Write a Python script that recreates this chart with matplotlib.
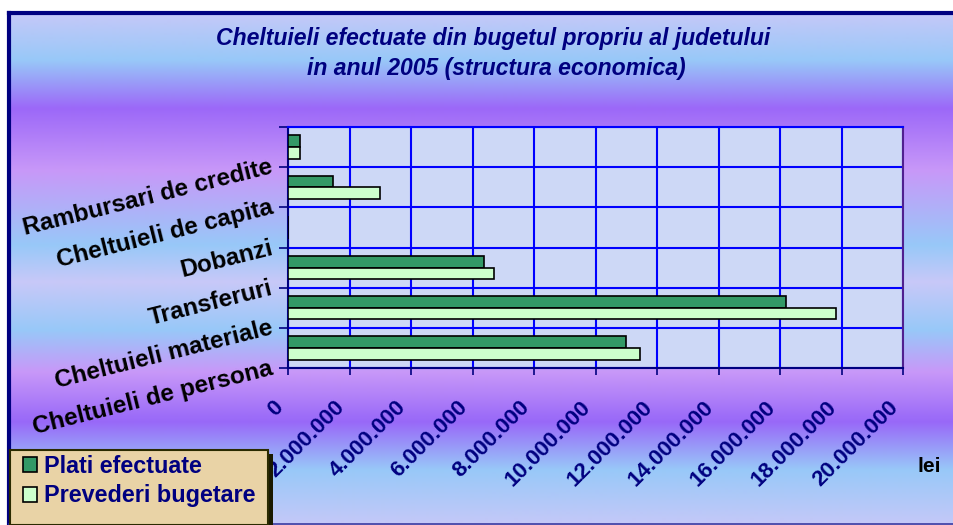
import matplotlib
matplotlib.use("Agg")
import matplotlib.pyplot as plt
import matplotlib.patches as mpatches
import matplotlib.transforms as mtransforms
import numpy as np

plt.rcParams['font.family'] = ['Liberation Sans', 'DejaVu Sans']

# data (lei)
categories = ["Cheltuieli de persona", "Cheltuieli materiale", "Transferuri",
              "Dobanzi", "Cheltuieli de capita", "Rambursari de credite"]
plati = [10980000, 16190000, 6350000, 0, 1460000, 380000]
prevederi = [11440000, 17810000, 6690000, 0, 2970000, 385000]
series_names = ["Plati efectuate", "Prevederi bugetare"]
x_ticks = np.arange(0, 20000001, 2000000)
x_ticklabels = [f"{int(v):,}".replace(",", ".") for v in x_ticks]

W, H = 954, 525
fig = plt.figure(figsize=(W / 100, H / 100), dpi=100)
fig.patch.set_facecolor('white')

# background frame with the banded gradient
bg = fig.add_axes([0, 0, 1, 1], zorder=-10)
stop_y = [14, 60, 108, 170, 245, 282, 330, 372, 422, 470, 524]
stop_c = ['#c4c8f8', '#98c8f8', '#9c68f8', '#c898f8', '#98c8f8', '#c8c8f8',
          '#98c8f8', '#c898f8', '#9868f8', '#98c8f8', '#c4c8f8']
stop_rgb = np.array([matplotlib.colors.to_rgb(c) for c in stop_c])
ys = np.arange(14, 524)
rgb = np.stack([np.interp(ys, stop_y, stop_rgb[:, k]) for k in range(3)], axis=-1)
bg.imshow(rgb[:, None, :], extent=[9, 954, 523, 14], aspect='auto',
          interpolation='bilinear')
bg.plot([9, 9], [523, 13], color='#000080', lw=3, solid_capstyle='projecting')
bg.plot([9, 960], [13, 13], color='#000080', lw=3, solid_capstyle='projecting')
bg.plot([9, 960], [523.5, 523.5], color='#3030a0', lw=1.2)
bg.set_xlim(0, W)
bg.set_ylim(H, 0)
bg.axis('off')

# main plot
ax = fig.add_axes([288.3 / W, 1 - 368 / H, 615 / W, 241 / H])
ax.set_facecolor('#cdd8f6')
pos = np.arange(len(categories)) + 0.5
h = 0.29
ax.barh(pos + h / 2, plati, height=h, color='#339966', edgecolor='black',
        lw=1.2, label=series_names[0], zorder=3)
ax.barh(pos - h / 2, prevederi, height=h, color='#ccffcc', edgecolor='black',
        lw=1.2, label=series_names[1], zorder=3)

ax.set_xlim(0, 20000000)
ax.set_ylim(0, 6)
ax.set_xticks(x_ticks)
ax.set_xticklabels(x_ticklabels, rotation=45, rotation_mode='anchor',
                   ha='right', va='center')
ax.set_yticks(range(7))
ax.set_yticklabels(categories + [''], rotation=14, rotation_mode='anchor',
                   ha='right', va='center')
ax.tick_params(axis='x', length=5, width=1.2, color='#000080', pad=21,
               labelsize=16, labelcolor='#000080')
ax.tick_params(axis='y', length=6.5, width=1.2, color='#000080', pad=5,
               labelsize=17.5, labelcolor='black')
shift = mtransforms.ScaledTranslation(-8 / 100, 0, fig.dpi_scale_trans)
for lab in ax.get_xticklabels():
    lab.set_fontweight('bold')
    lab.set_transform(lab.get_transform() + shift)
for lab in ax.get_yticklabels():
    lab.set_fontweight('bold')
ax.grid(True, color='#0000ff', lw=1.5)
ax.set_axisbelow(True)
for s in ['left', 'bottom']:
    ax.spines[s].set_color('#000080')
    ax.spines[s].set_linewidth(1.5)
ax.spines['top'].set_color('#0000ff')
ax.spines['top'].set_linewidth(1.5)
ax.spines['right'].set_color('#502090')
ax.spines['right'].set_linewidth(1.5)

# title
fig.text(493 / W, 1 - 38 / H, "Cheltuieli efectuate din bugetul propriu al judetului",
         ha='center', va='center', fontsize=16.6, style='italic', weight='bold',
         color='#000080')
fig.text(496 / W, 1 - 68 / H, "in anul 2005 (structura economica)",
         ha='center', va='center', fontsize=16.6, style='italic', weight='bold',
         color='#000080')

fig.text(929 / W, 1 - 466 / H, "lei", ha='center', va='center', fontsize=15,
         weight='bold', color='black')

# legend box (display pixel coords, y up) with shadow
shadow = mpatches.Rectangle((15, -4), 258, 75, facecolor='#1a1a00',
                            edgecolor='none', transform=mtransforms.IdentityTransform(),
                            zorder=4)
box = mpatches.Rectangle((10, 0), 258, 75, facecolor='#e9d3a6',
                         edgecolor='#2a2a00', lw=1.5,
                         transform=mtransforms.IdentityTransform(), zorder=4.5)
fig.patches.extend([shadow, box])

handles, labels = ax.get_legend_handles_labels()
leg = fig.legend(handles, labels, loc='upper left',
                 bbox_to_anchor=(23 / W, 1 - 455 / H), bbox_transform=fig.transFigure,
                 borderaxespad=0, borderpad=0, frameon=False,
                 prop={'weight': 'bold', 'size': 16.8}, labelcolor='#000080',
                 handlelength=0.62, handleheight=0.62, handletextpad=0.3,
                 labelspacing=0.27)
leg.set_zorder(6)

fig.savefig("out.png", dpi=100)
